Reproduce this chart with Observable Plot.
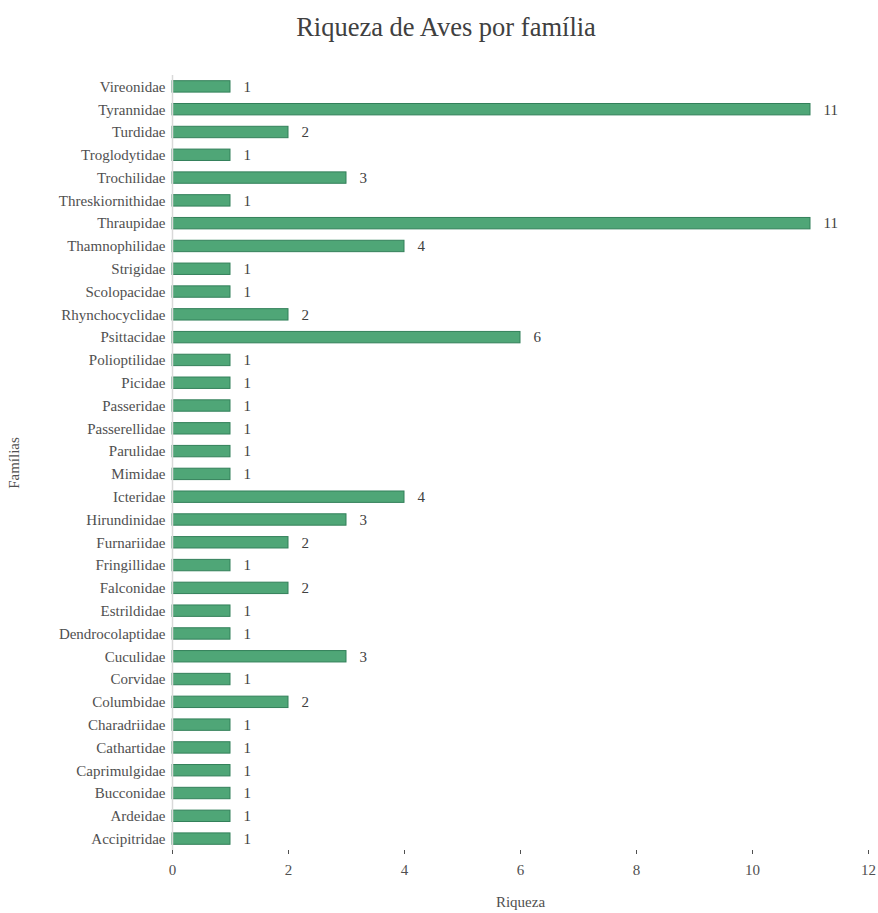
<!DOCTYPE html>
<html>
<head>
<meta charset="utf-8">
<script src="https://cdn.jsdelivr.net/npm/d3@7"></script>
<script src="https://cdn.jsdelivr.net/npm/@observablehq/plot@0.6"></script>
<style>
  html, body { margin: 0; padding: 0; background: #fff; }
  #title { height: 50px; line-height: 54px; text-align: center; font-family: "Liberation Serif", "DejaVu Serif", serif; font-size: 26.5px; color: #404040; padding-left: 14px; }
  #chart svg { display: block; }
</style>
</head>
<body>
<div id="title">Riqueza de Aves por família</div>
<div id="chart"></div>
<script>
const families = ["Vireonidae","Tyrannidae","Turdidae","Troglodytidae","Trochilidae","Threskiornithidae","Thraupidae","Thamnophilidae","Strigidae","Scolopacidae","Rhynchocyclidae","Psittacidae","Polioptilidae","Picidae","Passeridae","Passerellidae","Parulidae","Mimidae","Icteridae","Hirundinidae","Furnariidae","Fringillidae","Falconidae","Estrildidae","Dendrocolaptidae","Cuculidae","Corvidae","Columbidae","Charadriidae","Cathartidae","Caprimulgidae","Bucconidae","Ardeidae","Accipitridae"];
const richness = [1,11,2,1,3,1,11,4,1,1,2,6,1,1,1,1,1,1,4,3,2,1,2,1,1,3,1,2,1,1,1,1,1,1];
const xTicks = [0,2,4,6,8,10,12];

const data = families.map((f, i) => ({family: f, value: richness[i]}));

const chart = Plot.plot({
  width: 878,
  height: 863,
  marginTop: 25,
  marginBottom: 63,
  marginLeft: 172,
  marginRight: 10,
  style: {fontFamily: "'Liberation Serif', 'DejaVu Serif', serif", fontSize: "15px", color: "#505050", background: "#fff"},
  x: {domain: [0, 12], ticks: xTicks, label: "Riqueza", labelArrow: "none", labelAnchor: "center", labelOffset: 56, tickSize: 4, tickPadding: 10},
  y: {domain: families, paddingInner: 0.5, paddingOuter: 0.25, round: false, label: "Famílias", labelAnchor: "center", labelOffset: 164, tickSize: 0, tickPadding: 7},
  marks: [
    Plot.barX(data, {x: "value", y: "family", fill: "#4fa677", stroke: "#33805a", strokeWidth: 1}),
    Plot.ruleX([0], {stroke: "#d9d9d9", strokeWidth: 1.5}),
    Plot.ruleY([0], {stroke: "#d9d9d9", strokeWidth: 1.5}),
    Plot.text(data, {x: "value", y: "family", text: d => String(d.value), textAnchor: "start", dx: 13, fill: "#404040", fontSize: 15})
  ]
});
document.getElementById("chart").appendChild(chart);
</script>
</body>
</html>
